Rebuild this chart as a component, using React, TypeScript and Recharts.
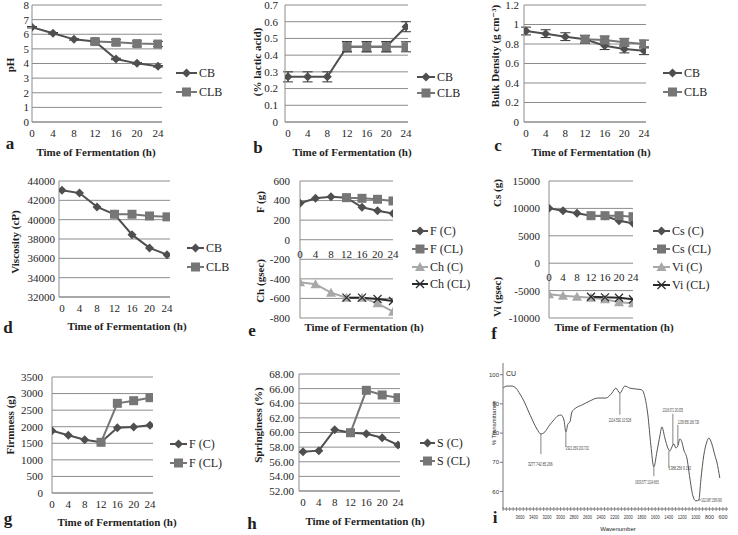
import React from 'react';
import { LineChart, Line, XAxis, YAxis, CartesianGrid, ErrorBar, ReferenceDot, ReferenceLine } from 'recharts';

const SERIF = '"Liberation Serif", "DejaVu Serif", serif';
const GRID = '#8c8c8c';
const DARK = '#4f4f4f';
const MID = '#767676';
const LIGHT = '#a8a8a8';
const BLACK = '#2b2b2b';
const TXT = '#1e1e1e';

const hours = [0, 4, 8, 12, 16, 20, 24];

// a - pH
const phCB = [6.48, 6.07, 5.65, 5.5, 4.31, 4.01, 3.81];
const phCLB = [null, null, null, 5.5, 5.45, 5.36, 5.33];
const phErrCB = [0.05, 0.05, 0.05, 0.05, 0.05, 0.05, 0.05];
const phErrCLB = [null, null, null, 0.18, 0.18, 0.18, 0.18];
// b - lactic acid
const laCB = [0.27, 0.27, 0.27, 0.45, 0.45, 0.45, 0.57];
const laCLB = [null, null, null, 0.45, 0.45, 0.45, 0.45];
const laErrCB = [0.03, 0.03, 0.03, 0.03, 0.03, 0.03, 0.03];
const laErrCLB = [null, null, null, 0.03, 0.03, 0.03, 0.03];
// c - bulk density
const bdCB = [0.933, 0.906, 0.875, 0.848, 0.783, 0.749, 0.731];
const bdCLB = [null, null, null, 0.848, 0.841, 0.817, 0.8];
const bdErrCB = [0.04, 0.04, 0.04, 0.04, 0.04, 0.04, 0.04];
const bdErrCLB = [null, null, null, 0.04, 0.04, 0.04, 0.04];
// d - viscosity
const viscCB = [43050, 42750, 41320, 40560, 38450, 37080, 36380];
const viscCLB = [null, null, null, 40560, 40560, 40380, 40290];
// e - F and Ch
const eFC = [372, 423, 440, 430, 331, 296, 269];
const eFCL = [null, null, null, 430, 423, 413, 396];
const eChC = [-435, -455, -541, -592, -592, -650, -735];
const eChCL = [null, null, null, -592, -592, -606, -626];
// f - Cs and Vi
const fCsC = [10018, 9580, 9100, 8670, 8610, 7760, 7280];
const fCsCL = [null, null, null, 8670, 8670, 8670, 8490];
const fViC = [-5675, -5930, -6110, -6290, -6590, -7140, -7320];
const fViCL = [null, null, null, -6110, -6230, -6290, -6590];
// g - firmness
const gFC = [1880, 1741, 1609, 1530, 1970, 1992, 2042];
const gFCL = [null, null, null, 1530, 2706, 2785, 2876];
// h - springiness
const hSC = [57.38, 57.52, 60.38, 59.97, 59.84, 59.29, 58.29];
const hSCL = [null, null, null, 59.97, 65.77, 65.13, 64.76];

// i - FTIR spectrum
const wavenumbers = [3851, 3792, 3718, 3659, 3600, 3541, 3482, 3408, 3349, 3290, 3231, 3172, 3098, 3039, 2994, 2950, 2921, 2891, 2861, 2832, 2773, 2684, 2566, 2448, 2330, 2241, 2182, 2123, 2049, 1975, 1887, 1798, 1754, 1709, 1665, 1621, 1576, 1532, 1502, 1458, 1414, 1384, 1355, 1325, 1296, 1266, 1237, 1207, 1178, 1133, 1089, 1044, 1000, 956, 926, 882, 838, 808, 764, 720, 690, 646];
const transmittance = [95.4, 96.1, 96.1, 95.4, 93.4, 91.0, 87.9, 84.1, 81.4, 79.7, 80.4, 82.4, 84.5, 85.9, 86.2, 84.5, 80.4, 83.1, 83.8, 87.2, 88.6, 89.6, 91.0, 92.0, 92.0, 93.7, 95.4, 93.7, 96.1, 95.4, 95.1, 94.8, 92.4, 86.2, 75.9, 68.4, 73.5, 79.0, 82.1, 78.3, 74.9, 73.9, 75.2, 76.3, 74.9, 75.6, 78.0, 77.0, 74.2, 71.5, 64.6, 58.5, 56.8, 57.1, 64.0, 72.5, 77.0, 78.3, 76.3, 72.5, 70.1, 64.6];
const wnLabels = [3600, 3400, 3200, 3000, 2800, 2600, 2400, 2200, 2000, 1800, 1600, 1400, 1200, 1000, 800, 600];
const tTicks = [60, 70, 80, 90, 100];
const peakLabels = ['3277.742 85.266', '2921.059 203.702', '2114.592 10.528', '1639.577 1014.665', '1388.256 9.150', '1318.071 30.035', '1238.856 186.728', '1022.887 2589.900'];
const peakLeaders = [
  { x1: 3290, y1: 79.7, x2: 3290, y2: 72.8 },
  { x1: 2921, y1: 80.4, x2: 2921, y2: 75.2 },
  { x1: 2123, y1: 93.7, x2: 2123, y2: 86.3 },
  { x1: 1621, y1: 68.4, x2: 1621, y2: 65.2 },
  { x1: 1399, y1: 73.9, x2: 1399, y2: 68.0 },
  { x1: 1340, y1: 86.6, x2: 1340, y2: 76.0 },
  { x1: 1266, y1: 82.8, x2: 1266, y2: 75.9 },
  { x1: 960, y1: 57.1, x2: 925, y2: 57.1 },
];
// sx = horizontal squeeze of the (condensed) annotation text
const peakLabelPos = [
  { x: 3300, y: 69.4, sx: 0.6, anchor: 'middle' },
  { x: 2921, y: 75.0, sx: 0.52, anchor: 'start' },
  { x: 2123, y: 84.6, sx: 0.55, anchor: 'middle' },
  { x: 1724, y: 63.4, sx: 0.5, anchor: 'middle' },
  { x: 1399, y: 68.0, sx: 0.58, anchor: 'start' },
  { x: 1340, y: 88.0, sx: 0.5, anchor: 'middle' },
  { x: 1266, y: 83.9, sx: 0.48, anchor: 'start' },
  { x: 922, y: 57.1, sx: 0.44, anchor: 'start' },
];

type Shape = 'diamond' | 'square' | 'triangle' | 'cross';

function Marker({ cx, cy, shape, color, mk }: any) {
  if (cx == null || cy == null || isNaN(cx) || isNaN(cy)) return <g key={mk} />;
  if (shape === 'diamond')
    return <polygon key={mk} points={`${cx},${cy - 4.5} ${cx + 4.5},${cy} ${cx},${cy + 4.5} ${cx - 4.5},${cy}`} fill={color} />;
  if (shape === 'square') return <rect key={mk} x={cx - 4.5} y={cy - 4.5} width={9} height={9} fill={color} />;
  if (shape === 'triangle')
    return <polygon key={mk} points={`${cx},${cy - 5} ${cx + 5},${cy + 4} ${cx - 5},${cy + 4}`} fill={color} />;
  return (
    <g key={mk} stroke={color} strokeWidth={1.3}>
      <line x1={cx - 4} y1={cy - 4} x2={cx + 4} y2={cy + 4} />
      <line x1={cx - 4} y1={cy + 4} x2={cx + 4} y2={cy - 4} />
    </g>
  );
}

type SeriesDef = { key: string; label: string; color: string; shape: Shape; err?: string };

function build(cols: Record<string, (number | null)[]>) {
  return hours.map((h, i) => {
    const o: any = { h };
    Object.keys(cols).forEach((k) => {
      o[k] = cols[k][i];
    });
    return o;
  });
}

type PanelProps = {
  axisX: number; rightX: number; topY: number; botY: number;
  xDomain: [number, number]; yDomain: [number, number]; yTicks: number[];
  yGap: number; yFmt?: (v: number) => string; zeroAxis?: boolean;
  data: any[]; series: SeriesDef[];
};

function Panel(p: PanelProps) {
  const YW = 50;
  const L = p.axisX - YW;
  const T = p.topY - 8;
  const W = p.rightX - p.axisX + YW + 6;
  const H = p.botY - p.topY + 8 + (p.zeroAxis ? 9 : 24);
  const tickStyle = { fontSize: 11, fill: TXT, fontFamily: SERIF };
  return (
    <div style={{ position: 'absolute', left: L, top: T }}>
      <LineChart width={W} height={H} data={p.data} margin={{ top: 8, right: 6, left: 0, bottom: p.zeroAxis ? 9 : 4 }}>
        <CartesianGrid horizontal vertical={false} stroke={GRID} />
        <XAxis dataKey="h" type="number" domain={p.xDomain} allowDataOverflow ticks={hours} interval={0}
          hide={!!p.zeroAxis} height={20} tickLine={false} tickSize={0} tickMargin={7}
          axisLine={{ stroke: GRID }} tick={tickStyle} />
        <YAxis type="number" domain={p.yDomain} allowDataOverflow ticks={p.yTicks} interval={0} width={YW}
          tickLine={false} tickSize={0} tickMargin={p.yGap} axisLine={{ stroke: GRID }} tick={tickStyle}
          tickFormatter={p.yFmt} />
        {p.zeroAxis && hours.map((h) => (
          <ReferenceDot key={'z' + h} x={h} y={0} r={0} fill="none" stroke="none"
            label={{ value: String(h), position: 'bottom', offset: 10, fontSize: 11, fill: TXT, fontFamily: SERIF }} />
        ))}
        {p.series.map((s) => (
          <Line key={s.key} dataKey={s.key} type="linear" stroke={s.color} strokeWidth={2}
            isAnimationActive={false} connectNulls={false} activeDot={false}
            dot={(d: any) => <Marker key={`${s.key}-${d.index}`} mk={`${s.key}-${d.index}`} cx={d.cx} cy={d.cy} shape={s.shape} color={s.color} />}>
            {s.err ? <ErrorBar dataKey={s.err} width={5} stroke="#333" strokeWidth={1} direction="y" /> : null}
          </Line>
        ))}
      </LineChart>
    </div>
  );
}

function LegendOverlay({ x, ys, items, lineW }: { x: number; ys: number[]; items: SeriesDef[]; lineW: number }) {
  return (
    <>
      {items.map((s, i) => (
        <div key={s.key} style={{ position: 'absolute', left: x, top: ys[i] - 8, height: 16, display: 'flex', alignItems: 'center', whiteSpace: 'nowrap', fontFamily: SERIF, fontSize: 12, color: TXT }}>
          <svg width={lineW} height={12} style={{ display: 'block' }}>
            <line x1={0} y1={6} x2={lineW} y2={6} stroke={s.color} strokeWidth={2} />
            <Marker cx={lineW / 2} cy={6} shape={s.shape} color={s.color} mk="m" />
          </svg>
          <span style={{ marginLeft: 2 }}>{s.label}</span>
        </div>
      ))}
    </>
  );
}

function Txt({ x, y, children, size = 11, bold = true, rotate = false, family = SERIF }: any) {
  return (
    <div style={{ position: 'absolute', left: x, top: y, transform: `translate(-50%,-50%)${rotate ? ' rotate(-90deg)' : ''}`, whiteSpace: 'nowrap', fontFamily: family, fontSize: size, fontWeight: bold ? 700 : 400, color: TXT, lineHeight: 1 }}>
      {children}
    </div>
  );
}

const TITLE = 'Time of Fermentation (h)';

const sCB: SeriesDef = { key: 'cb', label: 'CB', color: DARK, shape: 'diamond', err: 'cbe' };
const sCLB: SeriesDef = { key: 'clb', label: 'CLB', color: MID, shape: 'square', err: 'clbe' };
const sCBn: SeriesDef = { key: 'cb', label: 'CB', color: DARK, shape: 'diamond' };
const sCLBn: SeriesDef = { key: 'clb', label: 'CLB', color: MID, shape: 'square' };
const eSeries: SeriesDef[] = [
  { key: 'fc', label: 'F (C)', color: DARK, shape: 'diamond' },
  { key: 'fcl', label: 'F (CL)', color: MID, shape: 'square' },
  { key: 'chc', label: 'Ch (C)', color: LIGHT, shape: 'triangle' },
  { key: 'chcl', label: 'Ch (CL)', color: BLACK, shape: 'cross' },
];
const fSeries: SeriesDef[] = [
  { key: 'csc', label: 'Cs (C)', color: DARK, shape: 'diamond' },
  { key: 'cscl', label: 'Cs (CL)', color: MID, shape: 'square' },
  { key: 'vic', label: 'Vi (C)', color: LIGHT, shape: 'triangle' },
  { key: 'vicl', label: 'Vi (CL)', color: BLACK, shape: 'cross' },
];
const gSeries: SeriesDef[] = [
  { key: 'fc', label: 'F (C)', color: DARK, shape: 'diamond' },
  { key: 'fcl', label: 'F (CL)', color: MID, shape: 'square' },
];
const hSeries: SeriesDef[] = [
  { key: 'sc', label: 'S (C)', color: DARK, shape: 'diamond' },
  { key: 'scl', label: 'S (CL)', color: MID, shape: 'square' },
];

function SpectrumPanel() {
  const axisX = 503, rightX = 728, topY = 363, botY = 509;
  const YW = 14, XH = 16, RM = 9;
  const data = wavenumbers.map((w, i) => ({ wn: w, t: transmittance[i] }));
  const minor: number[] = [];
  for (let v = 550; v <= 3850; v += 50) minor.push(v);
  const W = rightX - axisX + YW + RM;
  const H = botY - topY + 4 + XH;
  const xTick = (props: any) => {
    const { x, y, payload } = props;
    const v = payload.value;
    const show = wnLabels.indexOf(v) >= 0;
    return (
      <g>
        <line x1={x} y1={y - 4} x2={x} y2={y} stroke="#777" strokeWidth={0.8} />
        {show ? (
          <text x={x} y={y + 8} textAnchor="middle" fontSize={6} fontFamily="Arial, sans-serif" fill="#333" textLength={9} lengthAdjust="spacingAndGlyphs">{String(v)}</text>
        ) : null}
      </g>
    );
  };
  return (
    <div style={{ position: 'absolute', left: axisX - YW, top: topY - 4 }}>
      <LineChart width={W} height={H} data={data} margin={{ top: 4, right: RM, left: 0, bottom: 0 }}>
        <XAxis dataKey="wn" type="number" domain={[525, 3850]} reversed allowDataOverflow ticks={minor} interval={0}
          height={XH} tickLine={false} tickSize={0} axisLine={{ stroke: '#777' }} tick={xTick} />
        <YAxis type="number" domain={[54, 104]} allowDataOverflow ticks={tTicks} interval={0} width={YW}
          tickSize={3} tickMargin={1} tickLine={{ stroke: '#777' }} axisLine={{ stroke: '#777' }}
          tick={{ fontSize: 6, fill: '#333', fontFamily: 'Arial, sans-serif' }} />
        <Line dataKey="t" type="monotone" stroke="#555" strokeWidth={1} dot={false} activeDot={false} isAnimationActive={false} />
        {peakLeaders.map((s, i) => (
          <ReferenceLine key={'l' + i} segment={[{ x: s.x1, y: s.y1 }, { x: s.x2, y: s.y2 }]} stroke="#666" strokeWidth={0.8} />
        ))}
        {peakLabelPos.map((p, i) => (
          <ReferenceDot key={'d' + i} x={p.x} y={p.y} r={0}
            shape={(sp: any) => (
              <g transform={`translate(${sp.cx},${sp.cy + 2}) scale(${p.sx},1)`}>
                <text x={0} y={0} textAnchor={p.anchor as any} fontSize={5.5} fontFamily="Arial, sans-serif" fill="#444">{peakLabels[i]}</text>
              </g>
            )} />
        ))}
      </LineChart>
    </div>
  );
}

export default function App() {
  return (
    <div style={{ position: 'absolute', left: 0, top: 0, width: 738, height: 535, background: '#fff', overflow: 'hidden' }}>
      {/* a */}
      <Panel axisX={32} rightX={162} topY={5} botY={122} xDomain={[0, 24.76]} yDomain={[0, 8]}
        yTicks={[0, 1, 2, 3, 4, 5, 6, 7, 8]} yGap={3}
        data={build({ cb: phCB, clb: phCLB, cbe: phErrCB, clbe: phErrCLB })} series={[sCB, sCLB]} />
      <LegendOverlay x={176} ys={[73, 92]} items={[sCB, sCLB]} lineW={21} />
      <Txt x={10} y={65} rotate>pH</Txt>
      <Txt x={96} y={152}>{TITLE}</Txt>
      <Txt x={10} y={143} size={17}>a</Txt>

      {/* b */}
      <Panel axisX={285} rightX={408} topY={5} botY={122} xDomain={[-0.61, 24.41]} yDomain={[0, 0.7]}
        yTicks={[0, 0.1, 0.2, 0.3, 0.4, 0.5, 0.6, 0.7]} yGap={7}
        data={build({ cb: laCB, clb: laCLB, cbe: laErrCB, clbe: laErrCLB })} series={[sCB, sCLB]} />
      <LegendOverlay x={417} ys={[77, 93]} items={[sCB, sCLB]} lineW={18} />
      <Txt x={257} y={62} rotate>(% lactic acid)</Txt>
      <Txt x={352} y={152}>{TITLE}</Txt>
      <Txt x={258} y={147} size={17}>b</Txt>

      {/* c */}
      <Panel axisX={524} rightX={646} topY={5} botY={122} xDomain={[-0.41, 24.41]} yDomain={[0, 1.2]}
        yTicks={[0, 0.2, 0.4, 0.6, 0.8, 1, 1.2]} yGap={5}
        data={build({ cb: bdCB, clb: bdCLB, cbe: bdErrCB, clbe: bdErrCLB })} series={[sCB, sCLB]} />
      <LegendOverlay x={663} ys={[73, 92]} items={[sCB, sCLB]} lineW={19} />
      <Txt x={495} y={56} rotate>Bulk Density (g cm⁻³)</Txt>
      <Txt x={591} y={152}>{TITLE}</Txt>
      <Txt x={498} y={145} size={17}>c</Txt>

      {/* d */}
      <Panel axisX={59} rightX={170} topY={181} botY={297} xDomain={[-0.69, 24.69]} yDomain={[32000, 44000]}
        yTicks={[32000, 34000, 36000, 38000, 40000, 42000, 44000]} yGap={4}
        data={build({ cb: viscCB, clb: viscCLB })} series={[sCBn, sCLBn]} />
      <LegendOverlay x={187} ys={[248, 267]} items={[sCBn, sCLBn]} lineW={17} />
      <Txt x={15} y={242} rotate>Viscosity (cP)</Txt>
      <Txt x={127} y={326}>{TITLE}</Txt>
      <Txt x={8} y={327} size={17}>d</Txt>

      {/* e */}
      <Panel axisX={300} rightX={393} topY={181} botY={318} xDomain={[0, 24]} yDomain={[-800, 600]}
        yTicks={[-800, -600, -400, -200, 0, 200, 400, 600]} yGap={10} zeroAxis
        data={build({ fc: eFC, fcl: eFCL, chc: eChC, chcl: eChCL })} series={eSeries} />
      <LegendOverlay x={412} ys={[231, 249, 267, 284]} items={eSeries} lineW={16} />
      <Txt x={260} y={202} rotate>F (g)</Txt>
      <Txt x={260} y={281} rotate>Ch (gsec)</Txt>
      <Txt x={364} y={327}>{TITLE}</Txt>
      <Txt x={252} y={330} size={17}>e</Txt>

      {/* f */}
      <Panel axisX={549} rightX={633} topY={181} botY={318} xDomain={[0, 24]} yDomain={[-10000, 15000]}
        yTicks={[-10000, -5000, 0, 5000, 10000, 15000]} yGap={9} zeroAxis
        data={build({ csc: fCsC, cscl: fCsCL, vic: fViC, vicl: fViCL })} series={fSeries} />
      <LegendOverlay x={653} ys={[231, 249, 267, 285]} items={fSeries} lineW={17} />
      <Txt x={497} y={193} rotate>Cs (g)</Txt>
      <Txt x={497} y={297} rotate>Vi (gsec)</Txt>
      <Txt x={614} y={327}>{TITLE}</Txt>
      <Txt x={494} y={333} size={17}>f</Txt>

      {/* g */}
      <Panel axisX={52} rightX={153} topY={377} botY={493} xDomain={[0, 24.73]} yDomain={[0, 3500]}
        yTicks={[0, 500, 1000, 1500, 2000, 2500, 3000, 3500]} yGap={9}
        data={build({ fc: gFC, fcl: gFCL })} series={gSeries} />
      <LegendOverlay x={170} ys={[444, 463]} items={gSeries} lineW={17} />
      <Txt x={10} y={425} rotate>Firmness (g)</Txt>
      <Txt x={117} y={522}>{TITLE}</Txt>
      <Txt x={8} y={518} size={17}>g</Txt>

      {/* h */}
      <Panel axisX={299} rightX={400} topY={374} botY={491} xDomain={[-1.01, 24.5]} yDomain={[52, 68]}
        yTicks={[52, 54, 56, 58, 60, 62, 64, 66, 68]} yGap={5} yFmt={(v: number) => v.toFixed(2)}
        data={build({ sc: hSC, scl: hSCL })} series={hSeries} />
      <LegendOverlay x={420} ys={[443, 461]} items={hSeries} lineW={15} />
      <Txt x={258} y={425} rotate>Springiness (%)</Txt>
      <Txt x={365} y={521}>{TITLE}</Txt>
      <Txt x={252} y={523} size={17}>h</Txt>

      {/* i */}
      <SpectrumPanel />
      <Txt x={511} y={373} size={7} bold={false} family="Arial, sans-serif">CU</Txt>
      <Txt x={494} y={423} size={6} bold={false} rotate family="Arial, sans-serif">% Transmittance</Txt>
      <Txt x={618} y={529} size={6} bold={false} family="Arial, sans-serif">Wavenumber</Txt>
      <Txt x={495} y={517} size={17}>i</Txt>
    </div>
  );
}
